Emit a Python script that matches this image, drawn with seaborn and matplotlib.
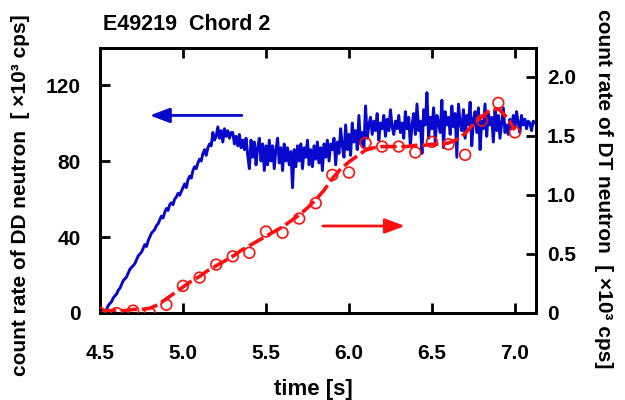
import matplotlib

matplotlib.use("Agg")
import matplotlib.pyplot as plt
import numpy as np
import pandas as pd
import seaborn as sns

# DD neutron count rate (x10^3 cps), sampled every 10 ms starting at 4.52 s
dd_t0 = 4.52
dd_dt = 0.01
dd_rate = [
    0, 1, 2, 4, 5, 6, 8, 9,
    10, 12, 13, 15, 17, 18, 19, 21, 23, 24,
    25, 26, 28, 30, 31, 32, 34, 36, 35, 38,
    40, 42, 43, 44, 46, 47, 49, 51, 50, 53,
    55, 54, 57, 58, 57, 60, 61, 63, 62, 64,
    66, 68, 66, 70, 72, 71, 75, 77, 76, 79,
    81, 80, 84, 86, 83, 87, 89, 88, 95, 91,
    93, 98, 92, 96, 90, 97, 93, 96, 92, 95,
    95, 89, 93, 88, 94, 87, 91, 86, 92, 83,
    76, 91, 82, 90, 78, 87, 92, 80, 89, 75,
    88, 78, 91, 80, 88, 76, 86, 92, 79, 87,
    75, 89, 80, 87, 78, 85, 66, 86, 77, 88,
    80, 89, 76, 87, 82, 91, 78, 86, 77, 88,
    81, 90, 79, 87, 75, 89, 82, 91, 80, 89,
    86, 92, 78, 90, 84, 97, 88, 82, 99, 86,
    94, 83, 100, 90, 96, 86, 104, 89, 95, 87,
    109, 92, 99, 103, 94, 101, 96, 105, 91, 100,
    97, 104, 93, 102, 96, 107, 98, 94, 101, 97,
    104, 95, 100, 92, 106, 97, 103, 88, 99, 105,
    94, 110, 96, 101, 84, 107, 99, 116, 92, 103,
    97, 108, 90, 104, 100, 95, 112, 87, 106, 99,
    103, 94, 109, 98, 105, 82, 110, 100, 96, 107,
    92, 104, 99, 111, 88, 102, 106, 95, 108, 86,
    101, 97, 110, 93, 105, 99, 103, 90, 107, 96,
    104, 92, 100, 108, 95, 99, 94, 102, 97, 104,
    98, 106, 100, 95, 104, 99, 102, 97, 101, 100,
    96, 101, 100,
]

# DT neutron count rate (x10^3 cps), measured points
dt_time = [4.5, 4.6, 4.7, 4.8, 4.9, 5.0, 5.1, 5.2, 5.3, 5.4, 5.5, 5.6, 5.7,
           5.8, 5.9, 6.0, 6.1, 6.2, 6.3, 6.4, 6.5, 6.6, 6.7, 6.8, 6.9, 7.0]
dt_rate = [0.0, 0.0, 0.02, 0.0, 0.07, 0.23, 0.30, 0.41, 0.48, 0.51, 0.69, 0.68, 0.80,
           0.93, 1.17, 1.19, 1.44, 1.41, 1.41, 1.36, 1.45, 1.43, 1.34, 1.63, 1.78, 1.53]

# smoothed DT curve
fit_time = [4.50, 4.55, 4.60, 4.65, 4.70, 4.75, 4.80, 4.85, 4.90, 4.95,
            5.00, 5.05, 5.10, 5.15, 5.20, 5.25, 5.30, 5.35, 5.40, 5.45,
            5.50, 5.55, 5.60, 5.65, 5.70, 5.75, 5.80, 5.85, 5.90, 5.95,
            6.00, 6.05, 6.10, 6.15, 6.20, 6.25, 6.30, 6.35, 6.40, 6.45,
            6.50, 6.55, 6.60, 6.65, 6.70, 6.75, 6.80, 6.85, 6.90, 6.95, 7.00]
fit_rate = [0.02, 0.02, 0.02, 0.02, 0.03, 0.03, 0.04, 0.07, 0.12, 0.17,
            0.22, 0.27, 0.31, 0.36, 0.40, 0.44, 0.48, 0.53, 0.57, 0.61,
            0.65, 0.69, 0.73, 0.78, 0.83, 0.89, 0.96, 1.04, 1.14, 1.22,
            1.28, 1.33, 1.38, 1.40, 1.41, 1.41, 1.41, 1.41, 1.42, 1.42,
            1.43, 1.43, 1.44, 1.47, 1.52, 1.60, 1.66, 1.72, 1.73, 1.66, 1.55]

x_ticks = [4.5, 5.0, 5.5, 6.0, 6.5, 7.0]
left_ticks = [0, 40, 80, 120]
right_ticks = [0, 0.5, 1.0, 1.5, 2.0]
right_labels = ["0", "0.5", "1.0", "1.5", "2.0"]

BLUE = "#0808cc"
RED = "#ff1010"

sns.set_style("ticks")
plt.rcParams["font.family"] = ["Liberation Sans", "DejaVu Sans"]
plt.rcParams["font.weight"] = "bold"
for key in ("text.color", "axes.labelcolor", "xtick.color", "ytick.color"):
    plt.rcParams[key] = "black"

dd = pd.DataFrame({
    "t": dd_t0 + dd_dt * np.arange(len(dd_rate)),
    "rate": dd_rate,
})
dt_pts = pd.DataFrame({"t": dt_time, "rate": dt_rate})
dt_fit = pd.DataFrame({"t": fit_time, "rate": fit_rate})

fig = plt.figure(figsize=(6.25, 4.0), dpi=100)
ax = fig.add_axes([0.16, 0.2175, 0.6976, 0.6625])
ax2 = ax.twinx()

sns.lineplot(data=dd, x="t", y="rate", ax=ax, color=BLUE, linewidth=2.1,
             estimator=None, sort=False)

sns.lineplot(data=dt_fit, x="t", y="rate", ax=ax2, color=RED, linewidth=2.6,
             estimator=None, dashes=False)
ax2.lines[-1].set_dashes((4.5, 1.3))
sns.scatterplot(data=dt_pts, x="t", y="rate", ax=ax2, s=60, marker="o",
                facecolor="none", edgecolor=RED, linewidth=1.2, zorder=5)

ax.set_xlim(4.5, 7.127)
ax.set_ylim(0, 139.5)
ax2.set_ylim(0, 2.245)

ax.set_xticks(x_ticks)
ax.set_xticklabels([f"{v:.1f}" for v in x_ticks])
ax.set_yticks(left_ticks)
ax2.set_yticks(right_ticks)
ax2.set_yticklabels(right_labels)

for a in (ax, ax2):
    for s in a.spines.values():
        s.set_linewidth(2.0)
        s.set_color("black")
ax.tick_params(axis="both", direction="in", length=7.5, width=2, labelsize=15,
               top=True, colors="black")
ax.tick_params(axis="x", pad=22)
ax.tick_params(axis="y", pad=14)
ax2.tick_params(axis="y", direction="in", length=7.5, width=2, labelsize=15, pad=8,
                colors="black")
for lab in ax.get_xticklabels() + ax.get_yticklabels() + ax2.get_yticklabels():
    lab.set_fontweight("bold")

ax.set_xlabel("time [s]", fontsize=16, fontweight="bold", color="black")
ax.set_ylabel("count rate of DD neutron  [ ×10³ cps]", fontsize=15,
              fontweight="bold", color="black")
ax2.set_ylabel("count rate of DT neutron  [ ×10³ cps]", fontsize=15,
               fontweight="bold", rotation=270, va="center", color="black")
ax.xaxis.set_label_coords(0.49, -0.25)
ax.yaxis.set_label_coords(-0.16, 0.445)
ax2.yaxis.set_label_coords(1.154, 0.47)

fig.text(0.165, 0.94, "E49219  Chord 2", fontsize=15.5, fontweight="bold",
         va="center", ha="left", color="black")

# direction arrows
ax.annotate("", xy=(4.80, 104), xytext=(5.355, 104),
            arrowprops=dict(arrowstyle="-|>,head_length=1.2,head_width=0.45",
                            color=BLUE, lw=2, shrinkA=0, shrinkB=0))
ax2.annotate("", xy=(6.337, 0.737), xytext=(5.843, 0.737),
             arrowprops=dict(arrowstyle="-|>,head_length=1.2,head_width=0.45",
                             color=RED, lw=2, shrinkA=0, shrinkB=0))

fig.savefig("out.png", dpi=100)
